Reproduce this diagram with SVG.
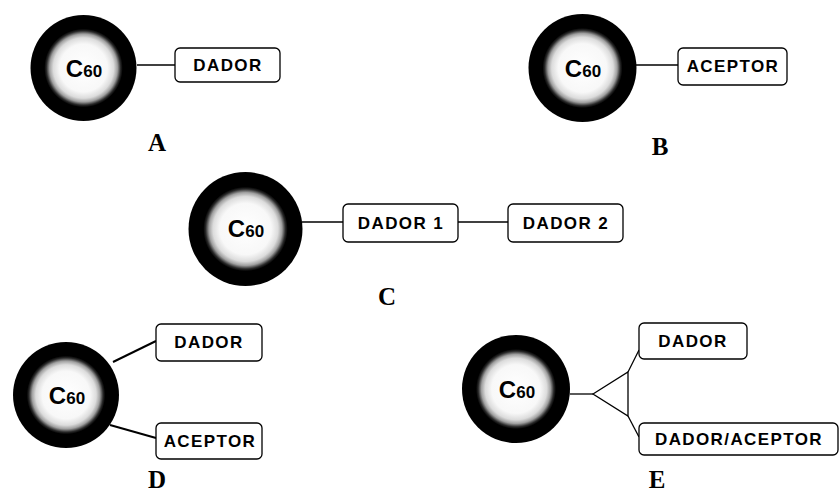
<svg xmlns="http://www.w3.org/2000/svg" width="840" height="494" viewBox="0 0 840 494">
<defs>
<radialGradient id="ball" cx="0.5" cy="0.5" r="0.5">
<stop offset="0" stop-color="#ffffff"/>
<stop offset="0.45" stop-color="#f8f8f8"/>
<stop offset="0.57" stop-color="#dcdcdc"/>
<stop offset="0.64" stop-color="#a0a0a0"/>
<stop offset="0.7" stop-color="#2a2a2a"/>
<stop offset="0.74" stop-color="#000000"/>
<stop offset="1" stop-color="#000000"/>
</radialGradient>
</defs>
<style>
.box{fill:#fff;stroke:#000;stroke-width:1.3}
.bt{font-family:"Liberation Sans",Arial,sans-serif;font-weight:bold;font-size:17px;letter-spacing:1.4px;text-anchor:middle;fill:#000}
.ct{font-family:"Liberation Sans",Arial,sans-serif;font-weight:bold;text-anchor:middle;fill:#000}
.lab{font-family:"Liberation Serif","Times New Roman",serif;font-weight:bold;font-size:25px;text-anchor:middle;fill:#000}
.ln{stroke:#000;stroke-width:1.3;fill:none}
.ln2{stroke:#000;stroke-width:2;fill:none}
</style>
<rect width="840" height="494" fill="#fff"/>
<g id="connectors">
<line class="ln" x1="137" y1="65" x2="175" y2="65"/>
<line class="ln" x1="636" y1="65" x2="678" y2="65"/>
<line class="ln" x1="302" y1="222" x2="343" y2="222"/>
<line class="ln" x1="458" y1="222" x2="508" y2="222"/>
<line class="ln2" x1="113" y1="362" x2="156" y2="341"/>
<line class="ln2" x1="110" y1="425" x2="156" y2="438"/>
<line class="ln" x1="570" y1="394" x2="593" y2="394"/>
<polygon class="ln" points="593,394 628,372 628,416"/>
<line class="ln" x1="628" y1="372" x2="639" y2="350"/>
<line class="ln" x1="628" y1="416" x2="639" y2="437"/>
</g>
<g id="nodeA">
<circle cx="83.5" cy="68" r="53" fill="url(#ball)"/>
<text class="ct" x="84" y="77"><tspan font-size="24">C</tspan><tspan font-size="17">60</tspan></text>
<rect class="box" x="175" y="48" width="105" height="34" rx="5"/>
<text class="bt" x="228" y="71">DADOR</text>
<text class="lab" x="157" y="151">A</text>
</g>
<g id="nodeB">
<circle cx="582.5" cy="68" r="54" fill="url(#ball)"/>
<text class="ct" x="583" y="77"><tspan font-size="24">C</tspan><tspan font-size="17">60</tspan></text>
<rect class="box" x="678" y="48" width="109" height="37" rx="5"/>
<text class="bt" x="733" y="72">ACEPTOR</text>
<text class="lab" x="660" y="155">B</text>
</g>
<g id="nodeC">
<circle cx="245.5" cy="229" r="57" fill="url(#ball)"/>
<text class="ct" x="246" y="237"><tspan font-size="24">C</tspan><tspan font-size="17">60</tspan></text>
<rect class="box" x="343" y="204" width="115" height="38" rx="5"/>
<text class="bt" x="401" y="229">DADOR 1</text>
<rect class="box" x="508" y="204" width="115" height="38" rx="5"/>
<text class="bt" x="566" y="229">DADOR 2</text>
<text class="lab" x="387" y="305">C</text>
</g>
<g id="nodeD">
<circle cx="66" cy="395" r="53" fill="url(#ball)"/>
<text class="ct" x="67" y="404"><tspan font-size="24">C</tspan><tspan font-size="17">60</tspan></text>
<rect class="box" x="156" y="324" width="106" height="37" rx="5"/>
<text class="bt" x="209" y="348">DADOR</text>
<rect class="box" x="156" y="423" width="106" height="36" rx="5"/>
<text class="bt" x="210" y="447">ACEPTOR</text>
<text class="lab" x="157" y="488">D</text>
</g>
<g id="nodeE">
<circle cx="516" cy="389" r="54" fill="url(#ball)"/>
<text class="ct" x="517" y="398"><tspan font-size="24">C</tspan><tspan font-size="17">60</tspan></text>
<rect class="box" x="639" y="323" width="108" height="36" rx="5"/>
<text class="bt" x="693" y="347">DADOR</text>
<rect class="box" x="639" y="423" width="199" height="32" rx="5"/>
<text class="bt" x="739" y="445">DADOR/ACEPTOR</text>
<text class="lab" x="657" y="488">E</text>
</g>
</svg>
